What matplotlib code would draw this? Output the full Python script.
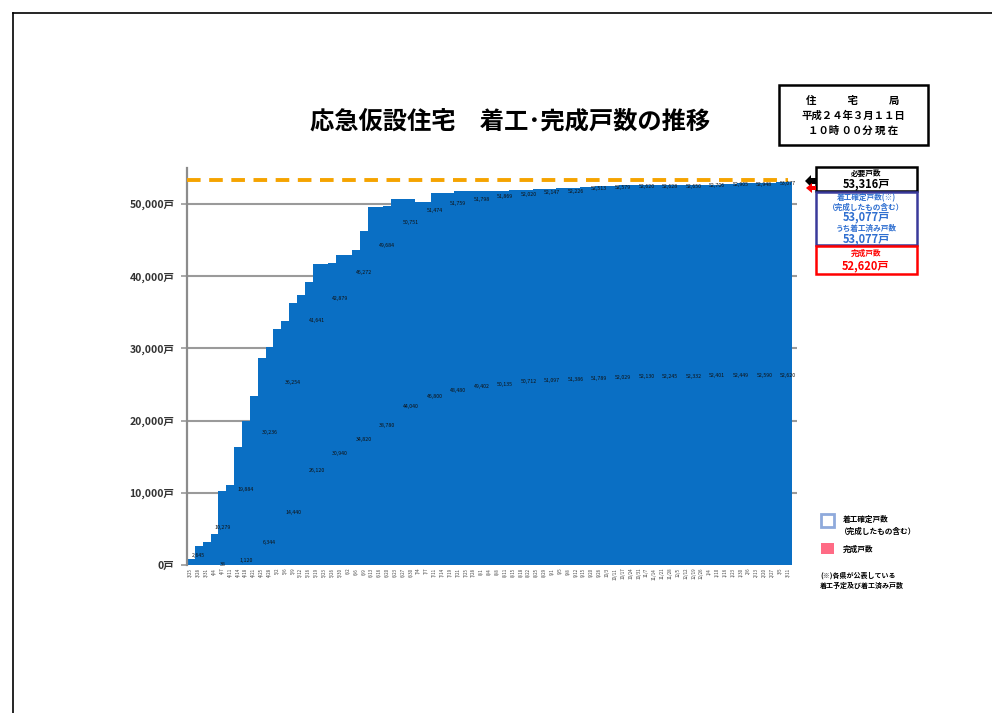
import matplotlib
matplotlib.use("Agg")
import matplotlib.pyplot as plt
from matplotlib.patches import Rectangle, Polygon
import numpy as np

plt.rcParams['font.family'] = ['Noto Sans CJK JP', 'DejaVu Sans']

# 日付（x軸）
dates = ['3/25', '3/28', '3/31', '4/4', '4/7', '4/11', '4/14', '4/18', '4/21', '4/25',
         '4/28', '5/2', '5/6', '5/9', '5/12', '5/16', '5/19', '5/23', '5/26', '5/30',
         '6/2', '6/6', '6/9', '6/13', '6/16', '6/20', '6/23', '6/27', '6/30', '7/4',
         '7/7', '7/11', '7/14', '7/19', '7/21', '7/25', '7/28', '8/1', '8/4', '8/8',
         '8/11', '8/15', '8/18', '8/22', '8/25', '8/29', '9/1', '9/5', '9/8', '9/12',
         '9/15', '9/20', '9/26', '10/3', '10/11', '10/17', '10/24', '10/31', '11/7', '11/14',
         '11/21', '11/28', '12/5', '12/12', '12/19', '12/26', '1/4', '1/10', '1/16', '1/23',
         '1/30', '2/6', '2/13', '2/20', '2/27', '3/5', '3/11']

# 着工確定戸数（完成したもの含む）
started = [800, 2645, 3230, 4300, 10279, 11080, 16390, 19884, 23410, 28630,
           30236, 32640, 33750, 36254, 37400, 39240, 41641, 41700, 41900, 42879,
           43000, 43630, 46272, 49540, 49560, 49684, 50700, 50720, 50751, 50300,
           50320, 51474, 51500, 51550, 51759, 51760, 51780, 51798, 51820, 51840,
           51869, 51900, 51990, 52020, 52050, 52080, 52147, 52180, 52200, 52226,
           52300, 52420, 52513, 52540, 52560, 52579, 52590, 52600, 52620, 52622,
           52625, 52628, 52635, 52640, 52650, 52670, 52690, 52706, 52780, 52850,
           52905, 52920, 52935, 52948, 52990, 53030, 53077]

# ラベルを付ける日（3日おき）と完成戸数
label_idx = list(range(1, 77, 3))
completed = [0, 38, 1120, 6344, 14440, 26120, 30940, 34820, 38780, 44040,
             46800, 48480, 49402, 50135, 50712, 51097, 51386, 51789, 52029, 52130,
             52245, 52332, 52401, 52449, 52590, 52620]

required = 53316
yticks = [0, 10000, 20000, 30000, 40000, 50000]

W, H = 992, 713
fig = plt.figure(figsize=(W / 100, H / 100), dpi=100)


def fx(x):
    return x / W


def fy(y):
    return 1 - y / H


ax = fig.add_axes([fx(187), fy(565), fx(797) - fx(187), fy(168) - fy(565)])

blue = '#0A6FC4'
x = np.arange(len(started))
ax.bar(x, started, width=1.0, color=blue, edgecolor='none', zorder=2)

ax.set_xlim(-0.5, len(started) - 0.5 + 0.65)
ax.set_ylim(0, 55000)

# 必要戸数の点線
ax.axhline(required, xmin=0, xmax=0.985, color='#F5A300', lw=2.8,
           linestyle=(0, (3.5, 2.2)), zorder=3)

# 目盛線
for v in yticks[1:]:
    ax.axhline(v, color='#9A9A9A', lw=1.5, zorder=1)

ax.set_yticks(yticks)
ax.set_yticklabels(['{:,}戸'.format(v) for v in yticks], fontsize=7.5,
                   fontweight='bold', color='#333333')
ax.tick_params(axis='y', length=4, width=1.2, color='#9A9A9A', pad=5)
ax.set_xticks(x)
ax.set_xticklabels(dates, rotation=90, fontsize=3.2, color='#444444')
ax.tick_params(axis='x', length=0, pad=2)

for s in ['top', 'right', 'bottom']:
    ax.spines[s].set_visible(False)
ax.spines['left'].set_color('#8C8C8C')
ax.spines['left'].set_linewidth(1.6)

# データラベル
for k, i in enumerate(label_idx):
    c = completed[k]
    t = started[i]
    ax.text(i, (t + c) / 2, '{:,}'.format(t), ha='center', va='center',
            fontsize=3.8, color='#111111', zorder=4)
    if c > 0:
        ax.text(i, c / 2, '{:,}'.format(c), ha='center', va='center',
                fontsize=3.8, color='#111111', zorder=4)

# タイトル
fig.text(fx(510), fy(122), '応急仮設住宅　着工･完成戸数の推移', ha='center', va='center',
         fontsize=17.5, fontweight='bold')

# 右上の枠
fig.patches.append(Rectangle((fx(779), fy(145)), fx(928) - fx(779), fy(85) - fy(145),
                             transform=fig.transFigure, fill=False, ec='black', lw=1.8))
fig.text(fx(853), fy(101), '住　　　宅　　　局', ha='center', va='center', fontsize=7.5, fontweight='bold')
fig.text(fx(853), fy(116), '平成２４年３月１１日', ha='center', va='center', fontsize=7.5, fontweight='bold')
fig.text(fx(853), fy(131), '１０時 ００分 現 在', ha='center', va='center', fontsize=7.5, fontweight='bold')

# 必要戸数
fig.patches.append(Rectangle((fx(816), fy(191)), fx(917) - fx(816), fy(167) - fy(191),
                             transform=fig.transFigure, fill=False, ec='black', lw=1.8))
fig.text(fx(866), fy(173), '必要戸数', ha='center', va='center', fontsize=5.5, fontweight='bold')
fig.text(fx(866), fy(184), '{:,}戸'.format(required), ha='center', va='center', fontsize=8, fontweight='bold')

# 着工確定戸数
tblue = '#2F6FD0'
fig.patches.append(Rectangle((fx(816), fy(245)), fx(917) - fx(816), fy(192) - fy(245),
                             transform=fig.transFigure, fill=False, ec='#3A3A9A', lw=1.8))
fig.text(fx(866), fy(198), '着工確定戸数(※)', ha='center', va='center', fontsize=5.5, fontweight='bold', color=tblue)
fig.text(fx(866), fy(207), '（完成したもの含む）', ha='center', va='center', fontsize=5.5, fontweight='bold', color=tblue)
fig.text(fx(866), fy(217), '{:,}戸'.format(started[-1]), ha='center', va='center', fontsize=8, fontweight='bold', color=tblue)
fig.text(fx(866), fy(228), 'うち着工済み戸数', ha='center', va='center', fontsize=5.5, fontweight='bold', color=tblue)
fig.text(fx(866), fy(239), '{:,}戸'.format(started[-1]), ha='center', va='center', fontsize=8, fontweight='bold', color=tblue)

# 完成戸数
fig.patches.append(Rectangle((fx(816), fy(274)), fx(917) - fx(816), fy(246) - fy(274),
                             transform=fig.transFigure, fill=False, ec='#FF0000', lw=1.8))
fig.text(fx(866), fy(253), '完成戸数', ha='center', va='center', fontsize=5.5, fontweight='bold', color='#FF0000')
fig.text(fx(866), fy(266), '{:,}戸'.format(completed[-1]), ha='center', va='center', fontsize=8, fontweight='bold', color='#FF0000')

# 矢印
fig.patches.append(Polygon([(fx(805), fy(181)), (fx(811), fy(175)), (fx(811), fy(178)),
                            (fx(816), fy(178)), (fx(816), fy(184)), (fx(811), fy(184)),
                            (fx(811), fy(187))], closed=True, transform=fig.transFigure,
                           fc='black', ec='none'))
fig.patches.append(Polygon([(fx(806), fy(188)), (fx(812), fy(183)), (fx(812), fy(186)),
                            (fx(816), fy(186)), (fx(816), fy(190)), (fx(812), fy(190)),
                            (fx(812), fy(193))], closed=True, transform=fig.transFigure,
                           fc='#FF0000', ec='none'))

# 凡例
fig.patches.append(Rectangle((fx(821), fy(527)), fx(834) - fx(821), fy(514) - fy(527),
                             transform=fig.transFigure, fc='white', ec='#8FAADC', lw=2))
fig.text(fx(843), fy(519), '着工確定戸数', ha='left', va='center', fontsize=5.5, fontweight='bold')
fig.text(fx(840), fy(531), '（完成したもの含む）', ha='left', va='center', fontsize=5.5, fontweight='bold')
fig.patches.append(Rectangle((fx(821), fy(554)), fx(834) - fx(821), fy(543) - fy(554),
                             transform=fig.transFigure, fc='#FF6B85', ec='none'))
fig.text(fx(843), fy(549), '完成戸数', ha='left', va='center', fontsize=5.5, fontweight='bold')
fig.text(fx(820), fy(575), '(※)各県が公表している', ha='left', va='center', fontsize=5, fontweight='bold')
fig.text(fx(820), fy(585), '着工予定及び着工済み戸数', ha='left', va='center', fontsize=5, fontweight='bold')

# ページの枠線
fig.lines.append(plt.Line2D([fx(13), 1], [fy(13), fy(13)], transform=fig.transFigure, color='black', lw=1.2))
fig.lines.append(plt.Line2D([fx(13), fx(13)], [fy(13), 0], transform=fig.transFigure, color='black', lw=1.2))

fig.savefig('out.png', dpi=100)
